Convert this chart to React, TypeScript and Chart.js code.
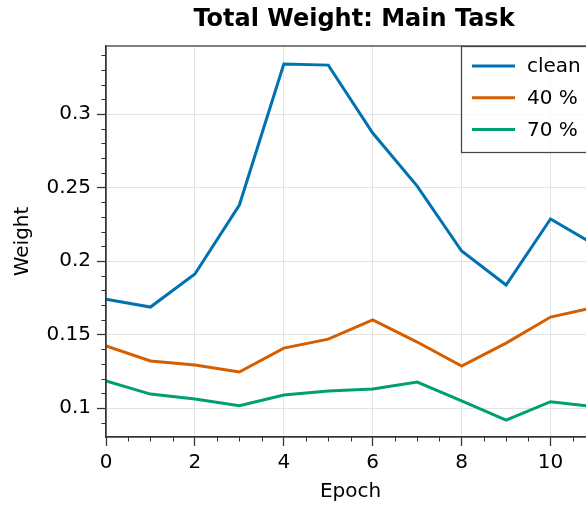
import React, { useEffect, useRef } from "react";
import { Chart, registerables } from "chart.js";

Chart.register(...registerables);

const epochs = [0, 1, 2, 3, 4, 5, 6, 7, 8, 9, 10, 11];
const cleanWeights = [0.1741, 0.1687, 0.1912, 0.2381, 0.334, 0.3333, 0.2871, 0.251, 0.2068, 0.1837, 0.2286, 0.2109];
const noise40Weights = [0.1422, 0.132, 0.1293, 0.1245, 0.1408, 0.1469, 0.1599, 0.1449, 0.1286, 0.1442, 0.1619, 0.1686];
const noise70Weights = [0.1184, 0.1095, 0.1061, 0.1016, 0.1088, 0.1116, 0.1129, 0.1177, 0.1048, 0.0918, 0.1043, 0.1008];
const seriesLabels = ["clean", "40 %", "70 %"];
const seriesColors = ["#0072B2", "#D55E00", "#009E73"];
const xTicks = [0, 2, 4, 6, 8, 10];
const xTickLabels = ["0", "2", "4", "6", "8", "10"];
const yTicks = [0.1, 0.15, 0.2, 0.25, 0.3];
const yTickLabels = ["0.1", "0.15", "0.2", "0.25", "0.3"];
const xMin = 0;
const xMax = 11;
const yMin = 0.0803;
const yMax = 0.3463;

const FONT = "'DejaVu Sans', sans-serif";

const decorPlugin = {
  id: "decor",
  afterDraw(chart: any) {
    const ctx = chart.ctx;
    const { left, right, top, bottom } = chart.chartArea;
    const xs = chart.scales.x;
    const ys = chart.scales.y;
    ctx.save();
    // minor ticks
    ctx.strokeStyle = "#333";
    ctx.lineWidth = 1;
    for (let i = 1; i < 23; i++) {
      if (i % 4 === 0) continue;
      const v = i * 0.5;
      if (v > xMax) break;
      const px = Math.round(xs.getPixelForValue(v)) + 0.5;
      ctx.beginPath();
      ctx.moveTo(px, bottom);
      ctx.lineTo(px, bottom + 4.5);
      ctx.stroke();
    }
    for (let i = 9; i <= 34; i++) {
      if (i % 5 === 0) continue;
      const v = i / 100;
      const py = Math.round(ys.getPixelForValue(v)) + 0.5;
      ctx.beginPath();
      ctx.moveTo(left - 4.5, py);
      ctx.lineTo(left, py);
      ctx.stroke();
    }
    // frame
    ctx.strokeStyle = "#333";
    ctx.lineWidth = 1.25;
    ctx.strokeRect(left, top, right - left, bottom - top);

    // legend
    const lx = right - 134;
    const ly = top;
    const lw = 132;
    const lh = 106;
    ctx.fillStyle = "rgba(255,255,255,0.8)";
    ctx.fillRect(lx, ly, lw, lh);
    ctx.strokeStyle = "#444";
    ctx.lineWidth = 1.25;
    ctx.strokeRect(lx + 0.5, ly + 0.5, lw, lh);
    ctx.font = `20px ${FONT}`;
    ctx.textBaseline = "middle";
    ctx.textAlign = "left";
    chart.data.datasets.forEach((ds: any, i: number) => {
      const cy = ly + 20 + i * 31.7;
      ctx.strokeStyle = ds.borderColor;
      ctx.lineWidth = 3;
      ctx.beginPath();
      ctx.moveTo(lx + 11, cy);
      ctx.lineTo(lx + 54, cy);
      ctx.stroke();
      ctx.fillStyle = "#000";
      ctx.fillText(ds.label, lx + 66, cy + 1);
    });
    ctx.restore();
  },
};

export default function App() {
  const ref = useRef<HTMLCanvasElement | null>(null);
  useEffect(() => {
    if (!ref.current) return;
    const series = [cleanWeights, noise40Weights, noise70Weights];
    const chart = new Chart(ref.current, {
      type: "line",
      data: {
        datasets: series.map((vals, i) => ({
          label: seriesLabels[i],
          data: epochs.map((e, j) => ({ x: e, y: vals[j] })),
          borderColor: seriesColors[i],
          backgroundColor: seriesColors[i],
          borderWidth: 3,
          pointRadius: 0,
          tension: 0,
          fill: false,
        })),
      },
      options: {
        responsive: false,
        animation: false,
        events: [],
        layout: { padding: 0 },
        plugins: {
          legend: { display: false },
          tooltip: { enabled: false },
          title: {
            display: true,
            text: "Total Weight: Main Task",
            color: "#000",
            font: { family: FONT, size: 24, weight: "bold", lineHeight: 1.2 },
            padding: { top: 5, bottom: 12.2 },
          },
        },
        scales: {
          x: {
            type: "linear",
            min: xMin,
            max: xMax,
            afterBuildTicks: (scale: any) => {
              scale.ticks = xTicks.map((v) => ({ value: v }));
            },
            afterFit: (scale: any) => {
              scale.height = 69;
            },
            grid: {
              color: "#e3e3e3",
              lineWidth: 1,
              tickColor: "#333",
              tickLength: 9,
              tickWidth: 1.25,
              drawTicks: true,
            },
            border: { display: true, color: "#333", width: 1.25 },
            ticks: {
              color: "#000",
              font: { family: FONT, size: 20 },
              padding: 5,
              maxRotation: 0,
              autoSkip: false,
              callback: (_v: any, i: number) => xTickLabels[i],
            },
            title: {
              display: true,
              text: "Epoch",
              color: "#000",
              font: { family: FONT, size: 20, lineHeight: 1.2 },
              padding: { top: 0, bottom: 2 },
            },
          },
          y: {
            type: "linear",
            position: "left",
            min: yMin,
            max: yMax,
            afterBuildTicks: (scale: any) => {
              scale.ticks = yTicks.map((v) => ({ value: v }));
            },
            afterFit: (scale: any) => {
              scale.width = 106;
            },
            grid: {
              color: "#e3e3e3",
              lineWidth: 1,
              tickColor: "#333",
              tickLength: 9,
              tickWidth: 1.25,
              drawTicks: true,
            },
            border: { display: true, color: "#333", width: 1.25 },
            ticks: {
              color: "#000",
              font: { family: FONT, size: 20 },
              padding: 6,
              autoSkip: false,
              callback: (_v: any, i: number) => yTickLabels[i],
            },
            title: {
              display: true,
              text: "Weight",
              color: "#000",
              font: { family: FONT, size: 20, lineHeight: 1.2 },
              padding: { top: 11, bottom: 0 },
            },
          },
          spacer: {
            type: "linear",
            position: "right",
            min: 0,
            max: 1,
            display: true,
            afterFit: (scale: any) => {
              scale.width = 113;
            },
            grid: { display: false, drawTicks: false },
            border: { display: false },
            ticks: { display: false },
            title: { display: false },
          },
        },
      },
      plugins: [decorPlugin],
    });
    return () => chart.destroy();
  }, []);

  return (
    <div
      style={{
        position: "fixed",
        left: 0,
        top: 0,
        width: 586,
        height: 506,
        overflow: "hidden",
        background: "#fff",
      }}
    >
      <canvas ref={ref} width={708} height={506} style={{ width: 708, height: 506, display: "block" }} />
    </div>
  );
}
